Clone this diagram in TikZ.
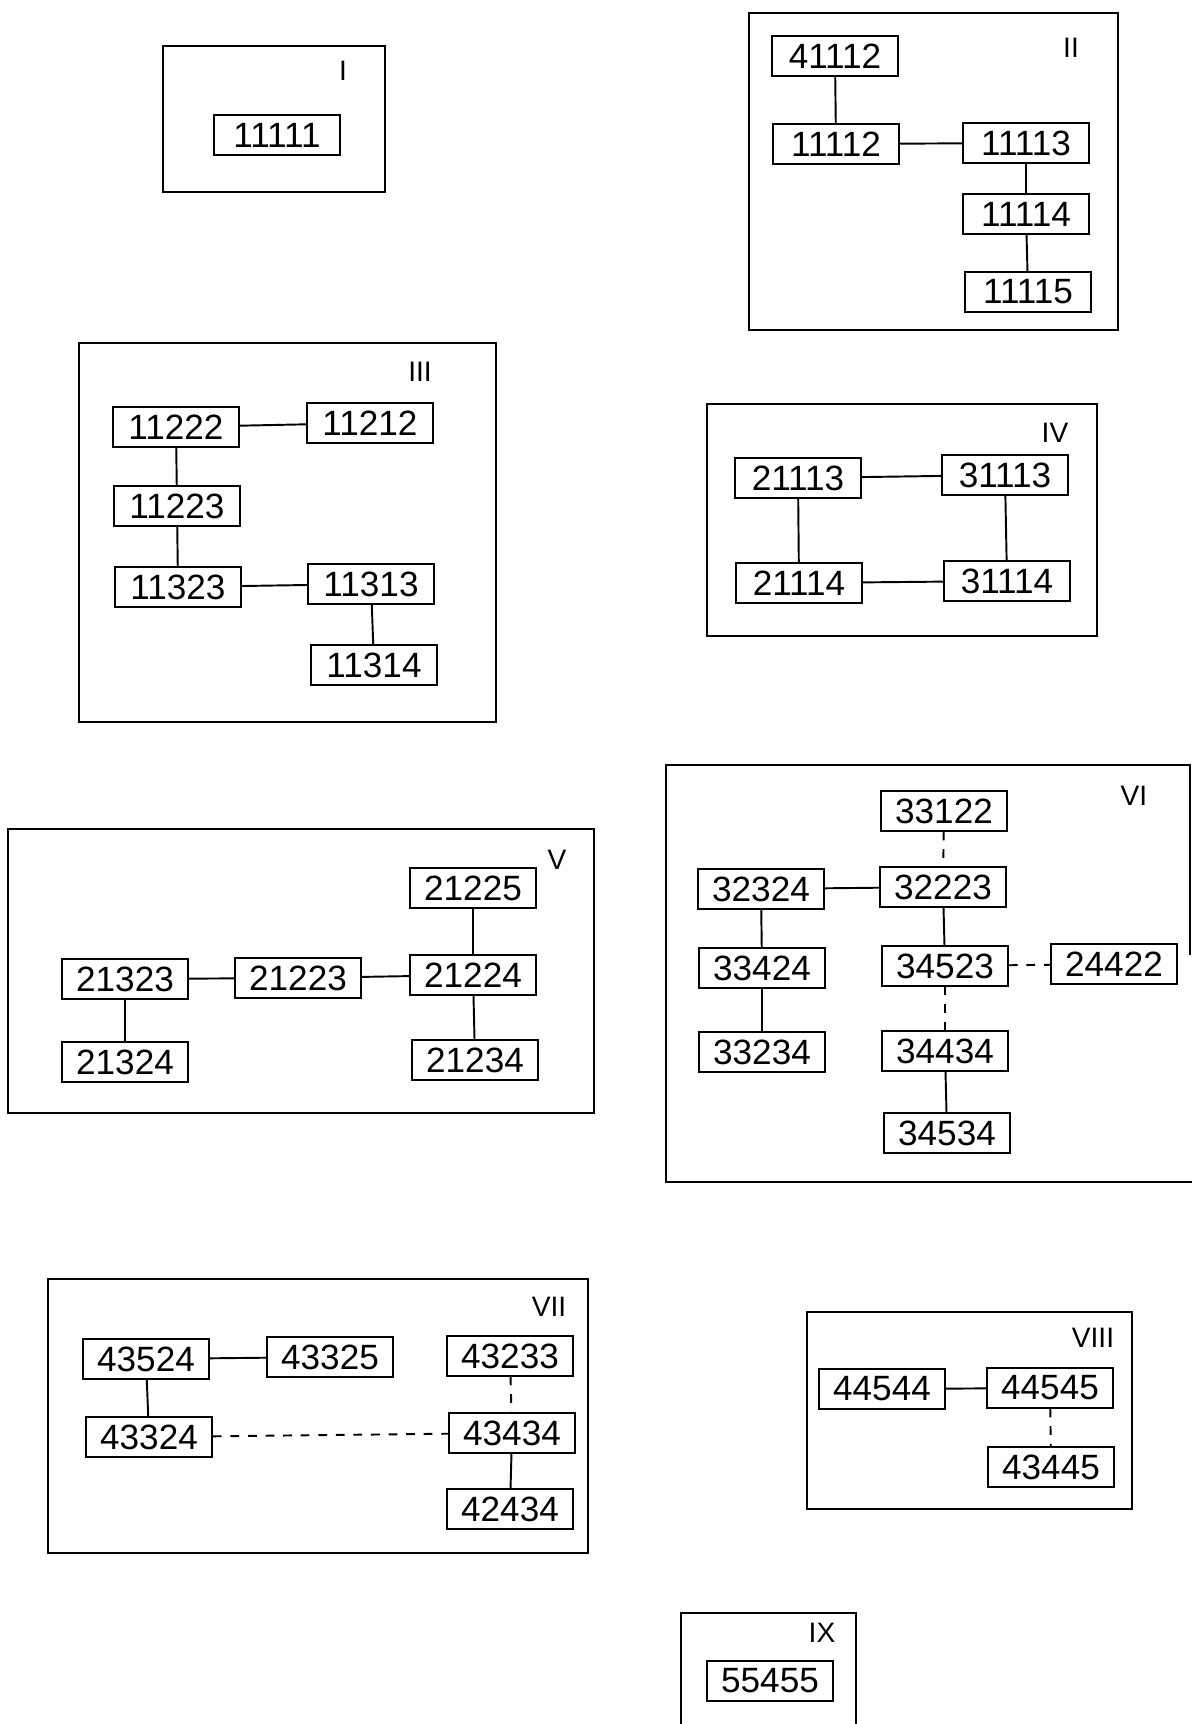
\documentclass[tikz,border=0pt]{standalone}
\usepackage{fontspec}
\setmainfont{Liberation Sans}
\tikzset{
  cell/.style={draw, line width=1pt, inner sep=0pt, minimum width=2.52cm,
    minimum height=0.79cm, font=\fontsize{20}{24}\selectfont},
  frame/.style={line width=1.4pt},
  numeral/.style={font=\fontsize{16}{18}\selectfont},
  link/.style={line width=1.1pt},
  gap/.style={line width=1.1pt, dash pattern=on 5pt off 5pt}
}
\begin{document}
\begin{tikzpicture}[x=0.02cm, y=-0.02cm]
  \useasboundingbox (0,0) rectangle (1192,1724);
  % I
  \draw[frame] (163,46) rectangle (385,192);
  \node[numeral] at (343,71) {I};
  \node[cell] (n11111) at (277,135) {11111};
  % II
  \draw[frame] (749,13) rectangle (1118,330);
  \node[numeral] at (1071,48) {II};
  \foreach \n/\x/\y in {41112/835/56, 11112/836/144, 11113/1026/143,
      11114/1026/214, 11115/1028/292}
    \node[cell] (n\n) at (\x,\y) {\n};
  \foreach \a/\b in {41112/11112, 11112/11113, 11113/11114, 11114/11115}
    \draw[link] (n\a)--(n\b);
  % III
  \draw[frame] (79,343) rectangle (496,722);
  \node[numeral] at (420,372) {III};
  \foreach \n/\x/\y in {11222/176/427, 11212/370/423, 11223/177/506,
      11323/178/587, 11313/371/584, 11314/374/665}
    \node[cell] (n\n) at (\x,\y) {\n};
  \foreach \a/\b in {11222/11212, 11222/11223, 11223/11323, 11323/11313, 11313/11314}
    \draw[link] (n\a)--(n\b);
  % IV
  \draw[frame] (707,404) rectangle (1097,636);
  \node[numeral] at (1055,433) {IV};
  \foreach \n/\x/\y in {21113/798/478, 31113/1005/475, 21114/799/583, 31114/1007/581}
    \node[cell] (n\n) at (\x,\y) {\n};
  \foreach \a/\b in {21113/31113, 21113/21114, 31113/31114, 21114/31114}
    \draw[link] (n\a)--(n\b);
  % V
  \draw[frame] (8,829) rectangle (594,1113);
  \node[numeral] at (557,860) {V};
  \foreach \n/\x/\y in {21225/473/888, 21323/125/979, 21223/298/978,
      21224/473/975, 21324/125/1062, 21234/475/1060}
    \node[cell] (n\n) at (\x,\y) {\n};
  \foreach \a/\b in {21323/21223, 21223/21224, 21225/21224, 21224/21234, 21323/21324}
    \draw[link] (n\a)--(n\b);
  % VI (right side cut by the page edge)
  \draw[frame] (1190,955) -- (1190,765) -- (666,765) -- (666,1182) -- (1192,1182);
  \node[numeral] at (1134,796) {VI};
  \foreach \n/\x/\y in {33122/944/811, 32324/761/889, 32223/943/887,
      33424/762/968, 34523/945/966, 24422/1114/964, 33234/762/1052,
      34434/945/1051, 34534/947/1133}
    \node[cell] (n\n) at (\x,\y) {\n};
  \foreach \a/\b in {32324/32223, 32223/34523, 34434/34534, 32324/33424, 33424/33234}
    \draw[link] (n\a)--(n\b);
  \foreach \a/\b in {33122/32223, 34523/24422, 34523/34434}
    \draw[gap] (n\a)--(n\b);
  % VII
  \draw[frame] (48,1279) rectangle (588,1553);
  \node[numeral] at (549,1307) {VII};
  \foreach \n/\x/\y in {43524/146/1359, 43325/330/1357, 43233/510/1356,
      43324/149/1437, 43434/512/1433, 42434/510/1509}
    \node[cell] (n\n) at (\x,\y) {\n};
  \foreach \a/\b in {43524/43325, 43524/43324, 43434/42434}
    \draw[link] (n\a)--(n\b);
  \foreach \a/\b in {43324/43434, 43233/43434}
    \draw[gap] (n\a)--(n\b);
  % VIII
  \draw[frame] (807,1312) rectangle (1132,1509);
  \node[numeral] at (1093,1338) {VIII};
  \foreach \n/\x/\y in {44544/882/1389, 44545/1050/1388, 43445/1051/1467}
    \node[cell] (n\n) at (\x,\y) {\n};
  \draw[link] (n44544)--(n44545);
  \draw[gap] (n44545)--(n43445);
  % IX (bottom cut by the page edge)
  \draw[frame] (681,1724) -- (681,1613) -- (856,1613) -- (856,1724);
  \node[numeral] at (822,1633) {IX};
  \node[cell] (n55455) at (770,1681) {55455};
\end{tikzpicture}
\end{document}
